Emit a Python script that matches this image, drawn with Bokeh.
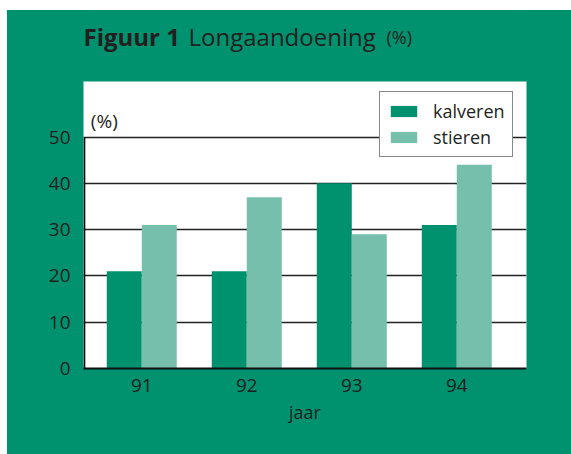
from bokeh.plotting import figure
from bokeh.models import FixedTicker, Label, ColumnDataSource, Spacer
from bokeh.layouts import column, row
from bokeh.transform import dodge
from bokeh.core.properties import value
from bokeh.embed import file_html
from bokeh.resources import INLINE

years = ["91", "92", "93", "94"]
kalveren = [21, 21, 40, 31]
stieren = [31, 37, 29, 44]
y_ticks = [0, 10, 20, 30, 40, 50]

DARK = "#00916E"
LIGHT = "#77BFAD"
TXT = "#231F20"
FONT = "Open Sans"

W = 564
TITLE_H = 60
BL, BR = 76, 45
FW = W - BL - BR

# ---- title strip ----
t = figure(width=W, height=TITLE_H, x_range=(0, FW), y_range=(0, TITLE_H),
           output_backend="svg", toolbar_location=None,
           x_axis_location=None, y_axis_location=None,
           min_border_left=BL, min_border_right=BR, min_border_top=0, min_border_bottom=0)
t.grid.visible = False
t.background_fill_color = None
t.border_fill_color = DARK
t.outline_line_color = None
base = 33.6
t.text(x=[0], y=[base], text=["Figuur 1"], text_font=value(FONT), text_font_size="24px",
       text_font_style="bold", text_color=TXT, text_baseline="alphabetic")
t.text(x=[105], y=[base], text=["Longaandoening"], text_font=value(FONT),
       text_font_size="24px", text_color=TXT, text_baseline="alphabetic")
t.text(x=[303], y=[base], text=["(%)"], text_font=value(FONT), text_font_size="18px",
       text_color=TXT, text_baseline="alphabetic")

# ---- chart ----
idx = list(range(1, len(years) + 1))
src = ColumnDataSource(dict(x=idx, kalveren=kalveren, stieren=stieren))

x0, x1 = 0.445, 4.664
p = figure(width=W, height=444 - TITLE_H, x_range=(x0, x1), y_range=(0, 62),
           output_backend="svg", toolbar_location=None,
           min_border_left=BL, min_border_right=BR, min_border_top=71 - TITLE_H,
           min_border_bottom=86)
p.background_fill_color = "white"
p.border_fill_color = DARK
p.outline_line_color = None

bw = 1 / 3
p.vbar(x=dodge("x", -bw / 2, range=p.x_range), top="kalveren", width=bw, source=src,
       fill_color=DARK, line_color=None, legend_label="kalveren")
p.vbar(x=dodge("x", bw / 2, range=p.x_range), top="stieren", width=bw, source=src,
       fill_color=LIGHT, line_color=None, legend_label="stieren")

# grid
p.xgrid.visible = False
p.ygrid.ticker = FixedTicker(ticks=[v for v in y_ticks if v > 0])
p.ygrid.grid_line_color = "#222222"
p.ygrid.grid_line_width = 1.4
p.ygrid.level = "underlay"

# axes
p.xaxis.ticker = FixedTicker(ticks=idx)
p.xaxis.major_label_overrides = {i: y for i, y in zip(idx, years)}
p.xaxis.axis_label = "jaar"
p.yaxis.ticker = FixedTicker(ticks=y_ticks)
for ax in (p.xaxis[0], p.yaxis[0]):
    ax.major_tick_in = 0
    ax.major_tick_out = 0
    ax.minor_tick_in = 0
    ax.minor_tick_out = 0
    ax.major_label_text_font = FONT
    ax.major_label_text_font_size = "19px"
    ax.major_label_text_color = TXT
    ax.axis_label_text_font = FONT
    ax.axis_label_text_font_size = "18px"
    ax.axis_label_text_font_style = "normal"
    ax.axis_label_text_color = TXT
p.xaxis.axis_line_color = "#111111"
p.xaxis.axis_line_width = 2
p.xaxis.major_label_standoff = 10
p.xaxis.axis_label_standoff = 5
p.yaxis.axis_line_color = None
p.yaxis.major_label_standoff = 13

# partial y axis line (0..50)
p.segment(x0=[x0 + 0.008], y0=[0], x1=[x0 + 0.008], y1=[y_ticks[-1]],
          line_color="#111111", line_width=2)

# (%) unit label
p.add_layout(Label(x=x0 + 0.07, y=53.4, text="(%)", text_font=FONT, text_font_size="19px",
                   text_color=TXT, text_baseline="alphabetic"))

# legend
lg = p.legend[0]
lg.location = (296, 211)
lg.border_line_color = "#111111"
lg.border_line_width = 1.5
lg.background_fill_color = "white"
lg.background_fill_alpha = 1
lg.label_text_font = FONT
lg.label_text_font_size = "18px"
lg.label_text_color = TXT
lg.glyph_width = 33
lg.glyph_height = 14
lg.label_standoff = 13
lg.label_height = 20
lg.spacing = 2
lg.padding = 7
lg.margin = 0

inner = column(t, p, styles={"background-color": DARK})
layout = column(Spacer(height=10), row(Spacer(width=7), inner))
open("out.html", "w").write(file_html(layout, INLINE))
